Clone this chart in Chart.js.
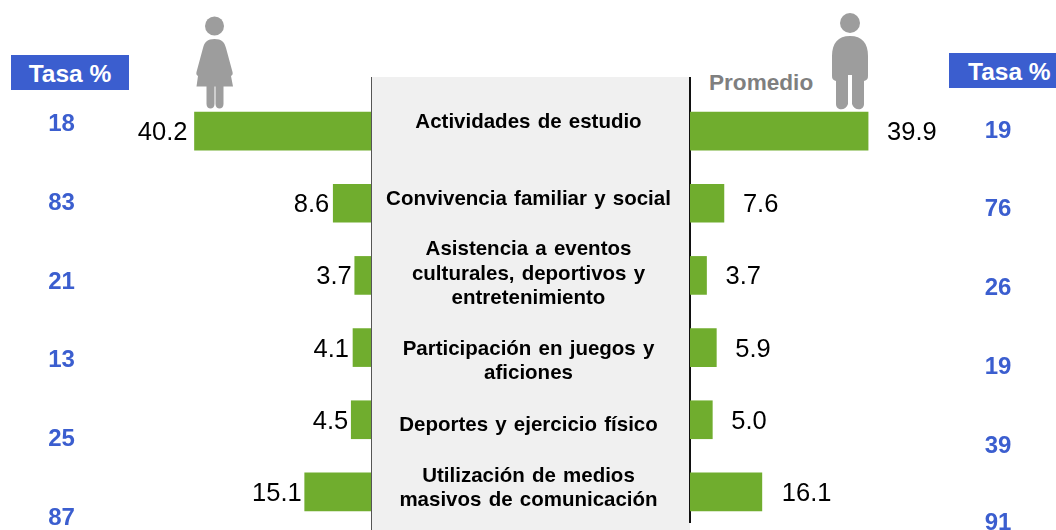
<!DOCTYPE html>
<html lang="es">
<head>
<meta charset="utf-8">
<title>Promedio y tasa por actividad</title>
<script src="https://cdn.jsdelivr.net/npm/chart.js@4/dist/chart.umd.js"></script>
<style>
  html, body { margin: 0; padding: 0; background: #fff; }
  #page { position: relative; width: 1056px; height: 530px; overflow: hidden; font-family: "Liberation Sans", Arial, sans-serif; }
  #page > * { position: absolute; }
  #panel { left: 371px; top: 77px; width: 318px; height: 453px; background: #f0f0f0; border-left: 1px solid #555; }
  #rightLine { left: 689px; top: 77px; width: 2px; height: 446px; background: #111; }
  .box { background: #3b5ecf; color: #fff; font-weight: bold; font-size: 24.500px; height: 35px; line-height: 37px; }
  .rate { color: #3b5ecf; font-weight: bold; font-size: 24px; width: 60px; text-align: center; line-height: 28px; }
  .cat { left: 370px; width: 317px; text-align: center; color: #000; font-weight: bold; font-size: 20.500px; line-height: 24.600px; word-spacing: 1.500px; }
  #promedio { left: 709px; top: 69px; color: #7f7f7f; font-weight: bold; font-size: 22.600px; line-height: 28px; }
  canvas { position: absolute; }
</style>
</head>
<body>
<div id="page">
  <div id="panel"></div>
  <div id="rightLine"></div>
  <div class="box" style="left:11px;top:55px;width:118px;text-align:center">Tasa %</div>
  <div class="box" style="left:949px;top:53px;width:88px;padding-left:19px">Tasa %</div>
  <div id="promedio">Promedio</div>
  <svg style="left:190px;top:10px" width="50" height="100" viewBox="0 0 50 100" fill="#9d9d9d">
    <circle cx="24.500" cy="16" r="9.500"/>
    <path d="M24.500 29c-7 0-10 3-11.500 9L6.500 62c-.5 2 0 3 1.500 4L6.500 76.500h10V94c0 6 8 6 8 0V76.500h1V94c0 6 8 6 8 0V76.500h9.500L41 66c1.500-1 2-2 1.500-4L36 38c-1.500-6-4.500-9-11.500-9z"/>
  </svg>
  <svg style="left:825px;top:8px" width="50" height="104" viewBox="0 0 50 104" fill="#9d9d9d">
    <circle cx="25" cy="15" r="10"/>
    <path d="M25 28c-12 0-18 7-18 20v20c0 3 1 4 4 5v23c0 7 10 7 12 0V67h4v29c2 7 12 7 12 0V73c3-1 4-2 4-5V48c0-13-6-20-18-20z"/>
  </svg>
  <canvas id="leftChart" style="left:0;top:95px"></canvas>
  <canvas id="rightChart" style="left:690px;top:95px"></canvas>
</div>
<script>
const categories = [
  ['Actividades de estudio'],
  ['Convivencia familiar y social'],
  ['Asistencia a eventos', 'culturales, deportivos y', 'entretenimiento'],
  ['Participación en juegos y', 'aficiones'],
  ['Deportes y ejercicio físico'],
  ['Utilización de medios', 'masivos de comunicación']
];
const mujeres = [40.2, 8.6, 3.7, 4.1, 4.5, 15.1];
const hombres = [39.9, 7.6, 3.7, 5.9, 5.0, 16.1];
const tasaMujeres = [18, 83, 21, 13, 25, 87];
const tasaHombres = [19, 76, 26, 19, 39, 91];

// vertical centre of the text columns, they do not line up with the bars
const catY = [121.500, 198.500, 273, 360.500, 424.500, 487.500];
const tasaLeftY = [122.500, 201.500, 280.500, 358.500, 437.500, 516.500];
const tasaRightY = [129.500, 207.500, 286.500, 365.500, 444.500, 521.500];

const page = document.getElementById('page');

categories.forEach((lines, i) => {
  const d = document.createElement('div');
  d.className = 'cat';
  d.innerHTML = lines.join('<br>');
  d.style.top = (catY[i] - lines.length * 12.3) + 'px';
  page.appendChild(d);
});

function addRates(values, ys, center) {
  values.forEach((v, i) => {
    const d = document.createElement('div');
    d.className = 'rate';
    d.textContent = v;
    d.style.left = (center - 30) + 'px';
    d.style.top = (ys[i] - 14) + 'px';
    page.appendChild(d);
  });
}
addRates(tasaMujeres, tasaLeftY, 61.5);
addRates(tasaHombres, tasaRightY, 998);

// value next to the end of each bar
const valueLabels = {
  id: 'valueLabels',
  afterDatasetsDraw(chart, args, opts) {
    const ctx = chart.ctx;
    ctx.save();
    ctx.font = '25.500px "Liberation Sans", Arial, sans-serif';
    ctx.fillStyle = '#000';
    ctx.textBaseline = 'middle';
    ctx.textAlign = opts.side === 'left' ? 'right' : 'left';
    chart.getDatasetMeta(0).data.forEach((bar, i) => {
      const v = chart.data.datasets[0].data[i];
      const gap = opts.gaps[i];
      const x = opts.side === 'left' ? bar.x - gap : bar.x + gap;
      ctx.fillText(v.toFixed(1), x, bar.y + 2);
    });
    ctx.restore();
  }
};

function makeChart(id, values, width, maxVal, side, gaps) {
  const cv = document.getElementById(id);
  cv.width = width;
  cv.height = 433;
  cv.style.width = width + 'px';
  cv.style.height = '433px';
  return new Chart(cv.getContext('2d'), {
    type: 'bar',
    data: {
      labels: categories.map(c => c.join(' ')),
      datasets: [{ data: values, backgroundColor: '#70ad2e', barThickness: 38, borderWidth: 0 }]
    },
    options: {
      indexAxis: 'y',
      responsive: false,
      animation: false,
      layout: { padding: 0 },
      scales: {
        x: { display: false, min: 0, max: maxVal, reverse: side === 'left' },
        y: { display: false }
      },
      plugins: {
        legend: { display: false },
        tooltip: { enabled: false },
        valueLabels: { side: side, gaps: gaps }
      }
    },
    plugins: [valueLabels]
  });
}

makeChart('leftChart', mujeres, 371, 84.5, 'left', [7, 4, 3, 4, 3, 3]);
makeChart('rightChart', hombres, 366, 82, 'right', [19, 19, 19, 19, 19, 20]);
</script>
</body>
</html>
